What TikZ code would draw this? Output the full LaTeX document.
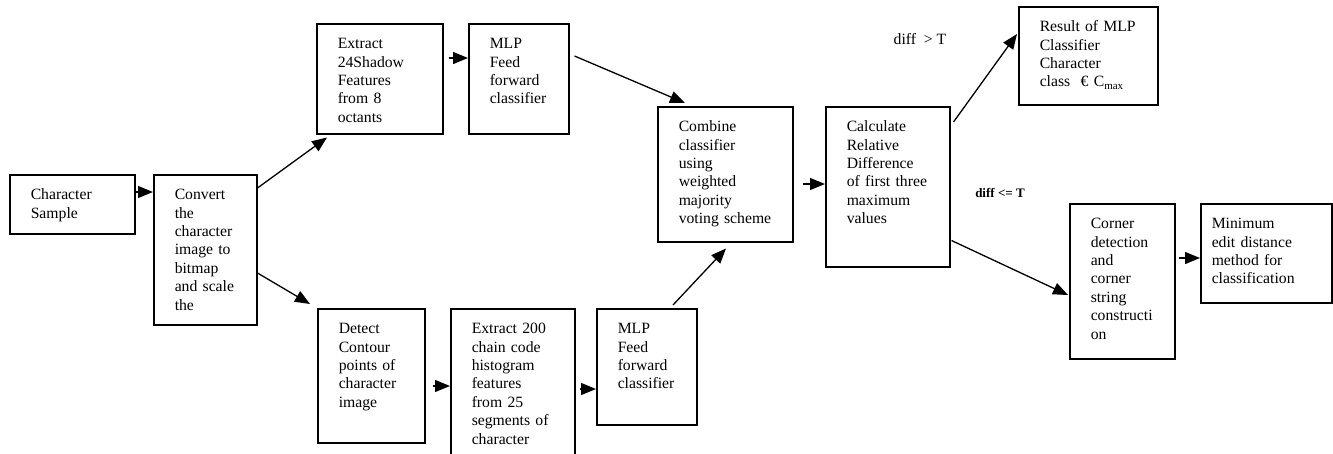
\documentclass[tikz,border=0pt]{standalone}
\usepackage{fontspec}
\setmainfont{Liberation Serif}
\usetikzlibrary{arrows.meta}
\newcommand{\boxfont}{\fontsize{15.7}{18.4}\selectfont}
\tikzset{stage/.style 2 args={draw, line width=1.5pt, anchor=north west, align=left, inner xsep=21pt, inner ysep=0pt, text height=25pt, text width=#1, text depth=#2, font=\boxfont}}
\tikzset{arr/.style={draw, line width=1.3pt, -{Triangle[length=15pt,width=12pt]}}}

\begin{document}
\begin{tikzpicture}[x=1pt, y=-1pt]
        \useasboundingbox (0,0) rectangle (1333,453);

        \node[stage={83pt}{34pt}] (sample) at (9,174) {Character\\Sample};
        \node[stage={61pt}{125pt}] (conv) at (153,174) {Convert\\the\\character\\image~to\\bitmap\\and~scale\\the};
        \node[stage={84pt}{85pt}] (shadow) at (316,23) {Extract\\24Shadow\\Features\\from~8\\octants};
        \node[stage={58pt}{85pt}] (mlpa) at (468,23) {MLP\\Feed\\forward\\classifier};
        \node[stage={65pt}{109pt}] (contour) at (317,308) {Detect\\Contour\\points~of\\character\\image};
        \node[stage={82pt}{121pt}] (hist) at (450,308) {Extract~200\\chain~code\\histogram\\features\\from~25\\segments~of\\character};
        \node[stage={58pt}{91pt}] (mlpb) at (596,308) {MLP\\Feed\\forward\\classifier};
        \node[stage={93pt}{110pt}] (comb) at (657,106) {Combine\\classifier\\using\\weighted\\majority\\voting~scheme};
        \node[stage={82pt}{135pt}] (calc) at (825,106) {Calculate\\Relative\\Difference\\of~first~three\\maximum\\values};
        \node[stage={97pt}{73pt}] (result) at (1018,6) {Result~of~MLP\\Classifier\\Character\\class~\ €~C\textsubscript{max}};
        \node[stage={63pt}{130pt}] (corner) at (1069,203) {Corner\\detection\\and\\corner\\string\\constructi\\on};
        \node[stage={109pt}{74pt}, inner xsep=11pt] (minim) at (1200,203) {Minimum\\edit~distance\\method~for\\classification};

        \node[font=\boxfont] (gt) at (920,39) {diff~\ >~T};
        \node[font=\fontsize{13}{15}\selectfont\bfseries] (le) at (1000,193) {diff~<=~T};

        \begin{scope}[arr]
            \draw ([yshift=-18pt]sample.north east) -- ([yshift=-18pt]conv.north west);
            \draw ([yshift=-14pt]conv.north east) -- ([xshift=11pt,yshift=-3pt]shadow.south west);
            \draw ([yshift=-99pt]conv.north east) -- ([xshift=-7pt,yshift=4pt]contour.north west);
            \draw ([xshift=5pt,yshift=-35pt]shadow.north east) -- ([yshift=-35pt]mlpa.north west);
            \draw ([xshift=5pt,yshift=-33pt]mlpa.north east) -- ([xshift=28pt,yshift=3pt]comb.north west);
            \draw ([xshift=77pt,yshift=3pt]mlpb.north west) -- ([xshift=69pt,yshift=-6pt]comb.south west);
            \draw ([xshift=7pt,yshift=-78pt]contour.north east) -- ([yshift=-78pt]hist.north west);
            \draw ([xshift=4pt,yshift=-81pt]hist.north east) -- ([yshift=-81pt]mlpb.north west);
            \draw ([xshift=9pt,yshift=-78pt]comb.north east) -- ([yshift=-78pt]calc.north west);
            \draw ([xshift=3pt,yshift=-16pt]calc.north east) -- ([xshift=-1pt,yshift=-28pt]result.north west);
            \draw ([xshift=1pt,yshift=27pt]calc.south east) -- ([xshift=-1pt,yshift=-92pt]corner.north west);
            \draw ([xshift=3pt,yshift=-55pt]corner.north east) -- ([yshift=-55pt]minim.north west);
        \end{scope}
    \end{tikzpicture}
\end{document}
